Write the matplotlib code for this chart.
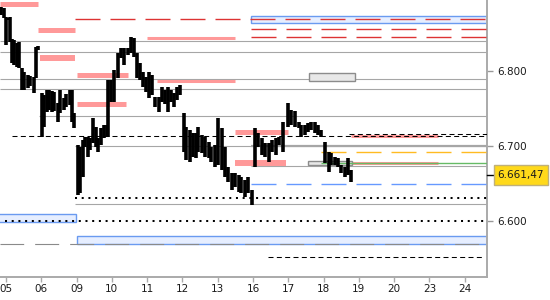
#!/usr/bin/env python3
"""Intraday price chart with support / resistance levels"""

import matplotlib
matplotlib.use('Agg')
import matplotlib.pyplot as plt
import matplotlib.transforms as mtransforms
from matplotlib.patches import Rectangle

# --- data -------------------------------------------------------------
# day index (0 = "05") and high / low of every bar
bar_day = [-0.13, -0.06, -0.01, 0.06, 0.11, 0.17, 0.23, 0.30, 0.38, 0.45,
           0.52, 0.62, 0.69, 0.78, 0.85, 0.92, 1.02, 1.09, 1.16, 1.23,
           1.30, 1.37, 1.46, 1.54, 1.63, 1.71, 1.80, 1.86, 1.94, 2.03,
           2.10, 2.17, 2.24, 2.32, 2.39, 2.47, 2.55, 2.62, 2.69, 2.78,
           2.85, 2.90, 2.98, 3.07, 3.17, 3.26, 3.34, 3.46, 3.54, 3.64,
           3.70, 3.80, 3.88, 3.97, 4.05, 4.14, 4.22, 4.33, 4.42, 4.50,
           4.59, 4.67, 4.76, 4.84, 4.93, 5.03, 5.11, 5.21, 5.30, 5.38,
           5.45, 5.54, 5.64, 5.74, 5.82, 5.92, 6.02, 6.11, 6.20, 6.30,
           6.39, 6.49, 6.59, 6.67, 6.77, 6.87, 6.96, 7.05, 7.15, 7.25,
           7.35, 7.45, 7.55, 7.65, 7.75, 7.85, 7.99, 8.09, 8.19, 8.29,
           8.37, 8.47, 8.57, 8.65, 8.75, 8.85, 8.94, 9.04, 9.14, 9.22,
           9.32, 9.42, 9.50, 9.60, 9.70, 9.77]
bar_high = [6.885, 6.884, 6.872, 6.871, 6.872, 6.843, 6.841, 6.837, 6.839, 6.804,
            6.799, 6.795, 6.793, 6.792, 6.832, 6.833, 6.771, 6.768, 6.775, 6.775,
            6.773, 6.772, 6.757, 6.775, 6.764, 6.769, 6.775, 6.775, 6.744, 6.701,
            6.699, 6.708, 6.712, 6.712, 6.711, 6.737, 6.725, 6.711, 6.724, 6.728,
            6.728, 6.788, 6.788, 6.801, 6.824, 6.831, 6.831, 6.831, 6.845, 6.844,
            6.824, 6.811, 6.799, 6.792, 6.799, 6.795, 6.765, 6.765, 6.779, 6.775,
            6.779, 6.775, 6.771, 6.779, 6.781, 6.744, 6.725, 6.721, 6.717, 6.717,
            6.725, 6.715, 6.712, 6.705, 6.699, 6.701, 6.737, 6.724, 6.699, 6.672,
            6.664, 6.664, 6.661, 6.659, 6.655, 6.659, 6.641, 6.724, 6.717, 6.711,
            6.704, 6.704, 6.708, 6.711, 6.712, 6.732, 6.757, 6.748, 6.747, 6.732,
            6.728, 6.728, 6.731, 6.732, 6.732, 6.728, 6.721, 6.705, 6.692, 6.691,
            6.685, 6.684, 6.675, 6.672, 6.684, 6.668]
bar_low = [6.875, 6.871, 6.835, 6.868, 6.839, 6.811, 6.808, 6.805, 6.804, 6.775,
           6.775, 6.777, 6.780, 6.771, 6.791, 6.828, 6.712, 6.725, 6.745, 6.748,
           6.745, 6.747, 6.732, 6.744, 6.748, 6.752, 6.755, 6.732, 6.724, 6.635,
           6.637, 6.659, 6.699, 6.685, 6.695, 6.704, 6.699, 6.692, 6.701, 6.711,
           6.712, 6.712, 6.759, 6.759, 6.791, 6.817, 6.808, 6.821, 6.824, 6.819,
           6.791, 6.788, 6.779, 6.772, 6.764, 6.768, 6.752, 6.745, 6.759, 6.756,
           6.745, 6.759, 6.752, 6.761, 6.768, 6.692, 6.681, 6.679, 6.685, 6.684,
           6.692, 6.691, 6.685, 6.684, 6.679, 6.672, 6.675, 6.668, 6.659, 6.652,
           6.641, 6.645, 6.639, 6.637, 6.632, 6.637, 6.621, 6.672, 6.699, 6.688,
           6.685, 6.679, 6.692, 6.688, 6.701, 6.692, 6.725, 6.728, 6.725, 6.724,
           6.712, 6.715, 6.719, 6.721, 6.717, 6.715, 6.712, 6.677, 6.665, 6.675,
           6.675, 6.672, 6.664, 6.659, 6.661, 6.652]

day_labels = ['05', '06', '09', '10', '11', '12', '13', '16',
              '17', '18', '19', '20', '23', '24']
price_ticks = [6.600, 6.700, 6.800]
top_tick = 6.900
last_price = 6.66147
last_price_text = '6.661,47'

X_MIN, X_MAX = -0.17, 13.63
Y_MIN, Y_MAX = 6.5253, 6.8947
RIGHT = X_MAX + 1.0   # levels running past the right edge

# gray solid levels
gray_levels = [6.840, 6.825, 6.789, 6.776, 6.740, 6.700, 6.673, 6.623]
gray_from = [X_MIN, X_MIN, X_MIN, X_MIN, 0.935, 1.955, 6.941, 1.955]

# red dashed levels
red_levels = [6.869, 6.8556, 6.845]
red_from = [1.955, 6.941, 6.941]

# black dashed / dotted levels
dash_levels = [6.7130, 6.7156, 6.5516]
dash_from = [0.17, 9.72, 7.42]
dash_to = [RIGHT, RIGHT, 13.48]
dot_levels = [6.6311, 6.6004]
dot_from = [1.955, -0.03]

# pink zones
pink_levels = [6.889, 6.8543, 6.817, 6.7943, 6.7556, 6.8436, 6.7867,
               6.7191, 6.6774, 6.7138, 6.677]
pink_from = [X_MIN, 0.906, 0.963, 2.011, 2.011, 3.994, 4.269,
             6.487, 6.487, 9.773, 9.793]
pink_to = [0.898, 1.955, 1.955, 3.448, 3.40, 6.487, 6.487,
           7.98, 7.924, 12.238, 12.238]

# boxes: (day from, day to, price low, price high)
blue_box_from = [6.941, X_MIN - 0.1, 2.011]
blue_box_to = [RIGHT, 1.975, RIGHT]
blue_box_low = [6.8636, 6.5983, 6.5690]
blue_box_high = [6.8729, 6.6089, 6.5800]
gray_box_from = [8.592, 8.564]
gray_box_to = [9.895, 9.793]
gray_box_low = [6.7867, 6.6750]
gray_box_high = [6.7970, 6.6804]

orange_level, orange_from = 6.6916, 8.924
green_level, green_from = 6.6774, 8.924
blue_level, blue_from = 6.6490, 6.941
gray_dash_level = 6.5690


def level(ax, y, x0, x1, **kw):
    """水平ラインを描く"""
    ax.plot([x0, x1], [y, y], solid_capstyle='butt', dash_capstyle='butt', **kw)


def main():
    plt.rcParams['font.family'] = ['DejaVu Sans']
    fig = plt.figure(figsize=(5.5, 3), dpi=100)
    ax = fig.add_axes([0, 23 / 300, 487 / 550, 277 / 300])
    ax.set_xlim(X_MIN, X_MAX)
    ax.set_ylim(Y_MIN, Y_MAX)

    long_dash = (0, (18, 7.2))

    # boxes
    for x0, x1, y0, y1 in zip(blue_box_from, blue_box_to, blue_box_low, blue_box_high):
        ax.add_patch(Rectangle((x0, y0), x1 - x0, y1 - y0, facecolor='#e6eeff',
                               edgecolor='#6a9af0', lw=1.0, zorder=1))
    for x0, x1, y0, y1 in zip(gray_box_from, gray_box_to, gray_box_low, gray_box_high):
        ax.add_patch(Rectangle((x0, y0), x1 - x0, y1 - y0, facecolor='#e8e8e8',
                               edgecolor='#8c8c8c', lw=1.0, zorder=4))

    # gray levels
    for y, x0 in zip(gray_levels, gray_from):
        level(ax, y, x0, RIGHT, color='#a6a6a6', lw=0.8, zorder=2)
    level(ax, 6.700, 6.941, RIGHT, color='#a6a6a6', lw=1.6, zorder=2)
    level(ax, gray_dash_level, X_MIN, RIGHT, color='#8a8a8a', lw=0.8,
          ls=(0.3, (21.6, 9.9)), zorder=2)

    # red dashed
    for y, x0 in zip(red_levels, red_from):
        level(ax, y, x0, RIGHT, color='#dd3333', lw=1.0, ls=long_dash, zorder=3)

    # pink zones
    pink_lw = [3.6, 3.6, 4.3, 3.6, 3.6, 2.2, 2.2, 3.6, 4.3, 2.2, 2.2]
    for y, x0, x1, lw in zip(pink_levels, pink_from, pink_to, pink_lw):
        level(ax, y, x0, x1, color='#ff9999', lw=lw, zorder=3)

    level(ax, orange_level, orange_from, RIGHT, color='#ffbb22', lw=1.0,
          ls=long_dash, zorder=4)
    level(ax, green_level, green_from, RIGHT, color='#66bb66', lw=1.0, zorder=4)
    level(ax, blue_level, blue_from, RIGHT, color='#6699ff', lw=1.0,
          ls=long_dash, zorder=4)

    # black dashed / dotted
    for y, x0, x1 in zip(dash_levels, dash_from, dash_to):
        level(ax, y, x0, x1, color='black', lw=0.75, ls=(0, (4.8, 3.2)), zorder=4)
    for y, x0 in zip(dot_levels, dot_from):
        level(ax, y, x0, RIGHT, color='black', lw=1.45, ls=(0, (1, 2.33)), zorder=4)

    # price bars
    ax.vlines(bar_day, bar_low, bar_high, color='black', lw=2.6, zorder=5)

    # axes styling
    for side in ('left', 'top'):
        ax.spines[side].set_visible(False)
    for side in ('right', 'bottom'):
        ax.spines[side].set_color('#aaaaaa')
        ax.spines[side].set_linewidth(1.4)
    ax.set_facecolor('white')

    ax.set_xticks(range(len(day_labels)))
    ax.set_xticklabels(day_labels)
    ax.yaxis.tick_right()
    ax.set_yticks(price_ticks)
    ax.set_yticklabels([f'{v:.3f}' for v in price_ticks])
    ax.tick_params(axis='x', length=3.6, width=1, color='#aaaaaa',
                   labelsize=7.5, labelcolor='#1a1a1a', pad=1.5)
    ax.tick_params(axis='y', length=4.3, width=1, color='#999999',
                   labelsize=7.5, labelcolor='#1a1a1a', pad=3)

    blend = mtransforms.blended_transform_factory(ax.transAxes, ax.transData)
    ax.text(1.021, top_tick, f'{top_tick:.3f}', transform=blend, fontsize=7.5,
            color='#1a1a1a', ha='left', va='center', clip_on=False)

    # last price label
    ax.plot([1.0, 1.015], [last_price, last_price], transform=blend,
            color='black', lw=1.0, clip_on=False, zorder=6)
    ax.add_patch(Rectangle((1.015, last_price - 0.0133), 0.1096, 0.0266,
                           transform=blend, facecolor='#ffd91a',
                           edgecolor='#bfb07a', lw=1.0, clip_on=False, zorder=6))
    ax.text(1.0216, last_price, last_price_text, transform=blend, fontsize=7.5,
            color='#1a1a1a', ha='left', va='center', clip_on=False, zorder=7)

    fig.savefig('out.png', dpi=100)
    plt.close(fig)


if __name__ == '__main__':
    main()
